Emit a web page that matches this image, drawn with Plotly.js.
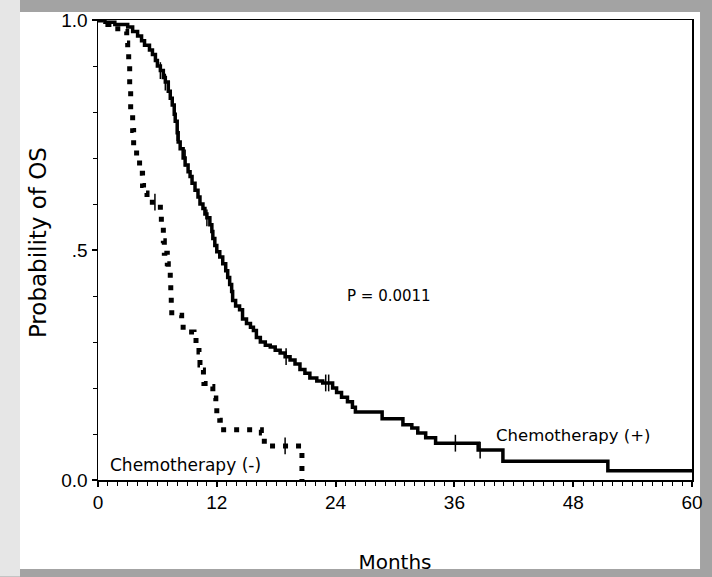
<!DOCTYPE html>
<html>
<head>
<meta charset="utf-8">
<script src="https://cdn.plot.ly/plotly-3.0.1.min.js"></script>
<style>html,body{margin:0;padding:0;background:#fff;}#chart{width:712px;height:577px;}</style>
</head>
<body>
<div id="chart"></div>
<script>
// Chemotherapy (+) Kaplan-Meier step curve
const chemoPlusMonths = [0, 0.7, 1.7, 3.0, 3.5, 4.0, 4.4, 4.7, 5.2, 5.5, 5.8, 6.0, 6.3, 6.6, 6.8, 7.1, 7.3, 7.5, 7.7, 7.8, 8.0, 8.1, 8.3, 8.6, 8.8, 9.1, 9.3, 9.5, 9.8, 10.1, 10.3, 10.6, 10.8, 11.0, 11.3, 11.5, 11.6, 11.8, 12.0, 12.3, 12.6, 12.9, 13.1, 13.3, 13.5, 13.6, 13.9, 14.3, 14.6, 15.0, 15.4, 15.7, 16.0, 16.4, 16.9, 17.4, 17.9, 18.4, 18.9, 19.4, 19.9, 20.4, 20.9, 21.4, 22.1, 22.7, 23.7, 24.1, 24.6, 25.2, 25.7, 26.0, 28.7, 30.8, 31.7, 32.3, 33.1, 34.1, 38.4, 40.9, 51.5, 60];
const chemoPlusSurv   = [1.0, 0.995, 0.99, 0.985, 0.975, 0.965, 0.955, 0.945, 0.935, 0.925, 0.912, 0.900, 0.890, 0.875, 0.865, 0.845, 0.830, 0.815, 0.795, 0.780, 0.755, 0.735, 0.720, 0.700, 0.685, 0.670, 0.660, 0.645, 0.630, 0.615, 0.600, 0.590, 0.578, 0.570, 0.555, 0.540, 0.525, 0.510, 0.496, 0.485, 0.470, 0.455, 0.440, 0.425, 0.410, 0.390, 0.378, 0.370, 0.350, 0.340, 0.332, 0.325, 0.310, 0.300, 0.293, 0.289, 0.282, 0.276, 0.268, 0.261, 0.252, 0.240, 0.232, 0.222, 0.215, 0.211, 0.200, 0.190, 0.180, 0.170, 0.158, 0.148, 0.133, 0.120, 0.113, 0.102, 0.092, 0.080, 0.065, 0.041, 0.020, 0.020];
const chemoPlusCensorMonths = [6.3, 6.8, 8.0, 8.8, 11.0, 19.0, 23.0, 23.3, 36.1, 38.6];
const chemoPlusCensorSurv   = [0.890, 0.865, 0.755, 0.700, 0.570, 0.268, 0.211, 0.211, 0.080, 0.065];

// Chemotherapy (-) Kaplan-Meier step curve
const chemoMinusMonths = [0, 1.0, 2.0, 2.9, 3.0, 3.1, 3.2, 3.3, 3.5, 3.6, 3.9, 4.2, 4.5, 4.6, 4.95, 6.3, 6.4, 6.6, 6.7, 7.0, 7.1, 7.3, 7.35, 7.4, 7.45, 8.45, 8.6, 9.7, 9.9, 10.2, 10.3, 10.6, 10.65, 10.7, 11.3, 11.6, 11.9, 12.0, 12.3, 12.35, 16.5, 16.8, 20.6];
const chemoMinusSurv   = [1.0, 0.99, 0.975, 0.95, 0.935, 0.90, 0.85, 0.80, 0.76, 0.72, 0.70, 0.667, 0.64, 0.624, 0.604, 0.58, 0.55, 0.52, 0.493, 0.47, 0.46, 0.43, 0.40, 0.385, 0.358, 0.348, 0.322, 0.315, 0.287, 0.278, 0.25, 0.239, 0.222, 0.21, 0.203, 0.178, 0.167, 0.141, 0.13, 0.109, 0.102, 0.074, 0.0];
const chemoMinusCensorMonths = [5.75, 18.9];
const chemoMinusCensorSurv   = [0.604, 0.074];

const xTickVals = [0, 12, 24, 36, 48, 60];
const xTickText = ['0', '12', '24', '36', '48', '60'];
const yTickVals = [0, 0.5, 1.0];
const yTickText = ['0.0', '.5', '1.0'];

const FONT = 'Liberation Sans, Arial, sans-serif';
const WIDE = 'DejaVu Sans, Liberation Sans, sans-serif';

const traces = [
  {x: chemoPlusMonths, y: chemoPlusSurv, mode: 'lines', line: {shape: 'hv', color: '#000', width: 3.5}, showlegend: false, hoverinfo: 'skip'},
  {x: chemoMinusMonths, y: chemoMinusSurv, mode: 'lines', line: {shape: 'hv', color: '#000', width: 5, dash: '5px,8px'}, showlegend: false, hoverinfo: 'skip'},
  {x: chemoPlusCensorMonths, y: chemoPlusCensorSurv, mode: 'markers', marker: {symbol: 'line-ns', size: 12, color: '#000', line: {color: '#000', width: 1.5}}, showlegend: false, hoverinfo: 'skip'},
  {x: chemoMinusCensorMonths, y: chemoMinusCensorSurv, mode: 'markers', marker: {symbol: 'line-ns', size: 12, color: '#000', line: {color: '#000', width: 1.5}}, showlegend: false, hoverinfo: 'skip'}
];

const layout = {
  width: 712, height: 577,
  margin: {l: 98, r: 20, t: 20, b: 97},
  paper_bgcolor: '#a3a3a3',
  plot_bgcolor: '#ffffff',
  font: {family: FONT, color: '#000', size: 15},
  xaxis: {
    range: [0, 60], tickvals: xTickVals, ticktext: xTickText,
    ticks: 'outside', ticklen: 5, tickwidth: 2, tickcolor: '#000',
    minor: {dtick: 1, tick0: 0, ticks: 'outside', ticklen: 4, tickwidth: 1, tickcolor: '#000'},
    showline: true, linecolor: '#000', linewidth: 1.5, mirror: true,
    showgrid: false, zeroline: false,
    tickfont: {family: FONT, size: 19, color: '#000'},
    title: {text: 'Months', font: {family: WIDE, size: 20, color: '#000'}, standoff: 42}
  },
  yaxis: {
    range: [0, 1.0], tickvals: yTickVals, ticktext: yTickText,
    ticks: 'outside', ticklen: 5, tickwidth: 2, tickcolor: '#000',
    minor: {dtick: 0.1, tick0: 0, ticks: 'outside', ticklen: 4, tickwidth: 1, tickcolor: '#000'},
    showline: true, linecolor: '#000', linewidth: 1.5, mirror: true,
    showgrid: false, zeroline: false,
    tickfont: {family: FONT, size: 19, color: '#000'}
  },
  shapes: [
    {type: 'rect', xref: 'paper', yref: 'paper', x0: -0.1650, x1: -0.1313, y0: -0.21, y1: 1.05, fillcolor: '#e6e6e6', line: {width: 0}, layer: 'below'},
    {type: 'rect', xref: 'paper', yref: 'paper', x0: -0.1313, x1: 1.0135, y0: -0.1935, y1: 1.0174, fillcolor: '#ffffff', line: {width: 0}, layer: 'below'}
  ],
  annotations: [
    {x: -0.101, y: 0.515, xref: 'paper', yref: 'paper', text: 'Probability of OS', textangle: -90, showarrow: false, xanchor: 'center', yanchor: 'middle', font: {family: WIDE, size: 23, color: '#000'}},
    {x: 29.4, y: 0.40, xref: 'x', yref: 'y', text: 'P = 0.0011', showarrow: false, xanchor: 'center', yanchor: 'middle', font: {family: WIDE, size: 15, color: '#000'}},
    {x: 56.0, y: 0.096, xref: 'x', yref: 'y', text: 'Chemotherapy (+)', showarrow: false, xanchor: 'right', yanchor: 'middle', font: {family: WIDE, size: 16.5, color: '#000'}},
    {x: 1.0, y: 0.033, xref: 'x', yref: 'y', text: 'Chemotherapy (-)', showarrow: false, xanchor: 'left', yanchor: 'middle', font: {family: WIDE, size: 17, color: '#000'}}
  ]
};

Plotly.newPlot('chart', traces, layout, {staticPlot: true, displayModeBar: false});
</script>
</body>
</html>
